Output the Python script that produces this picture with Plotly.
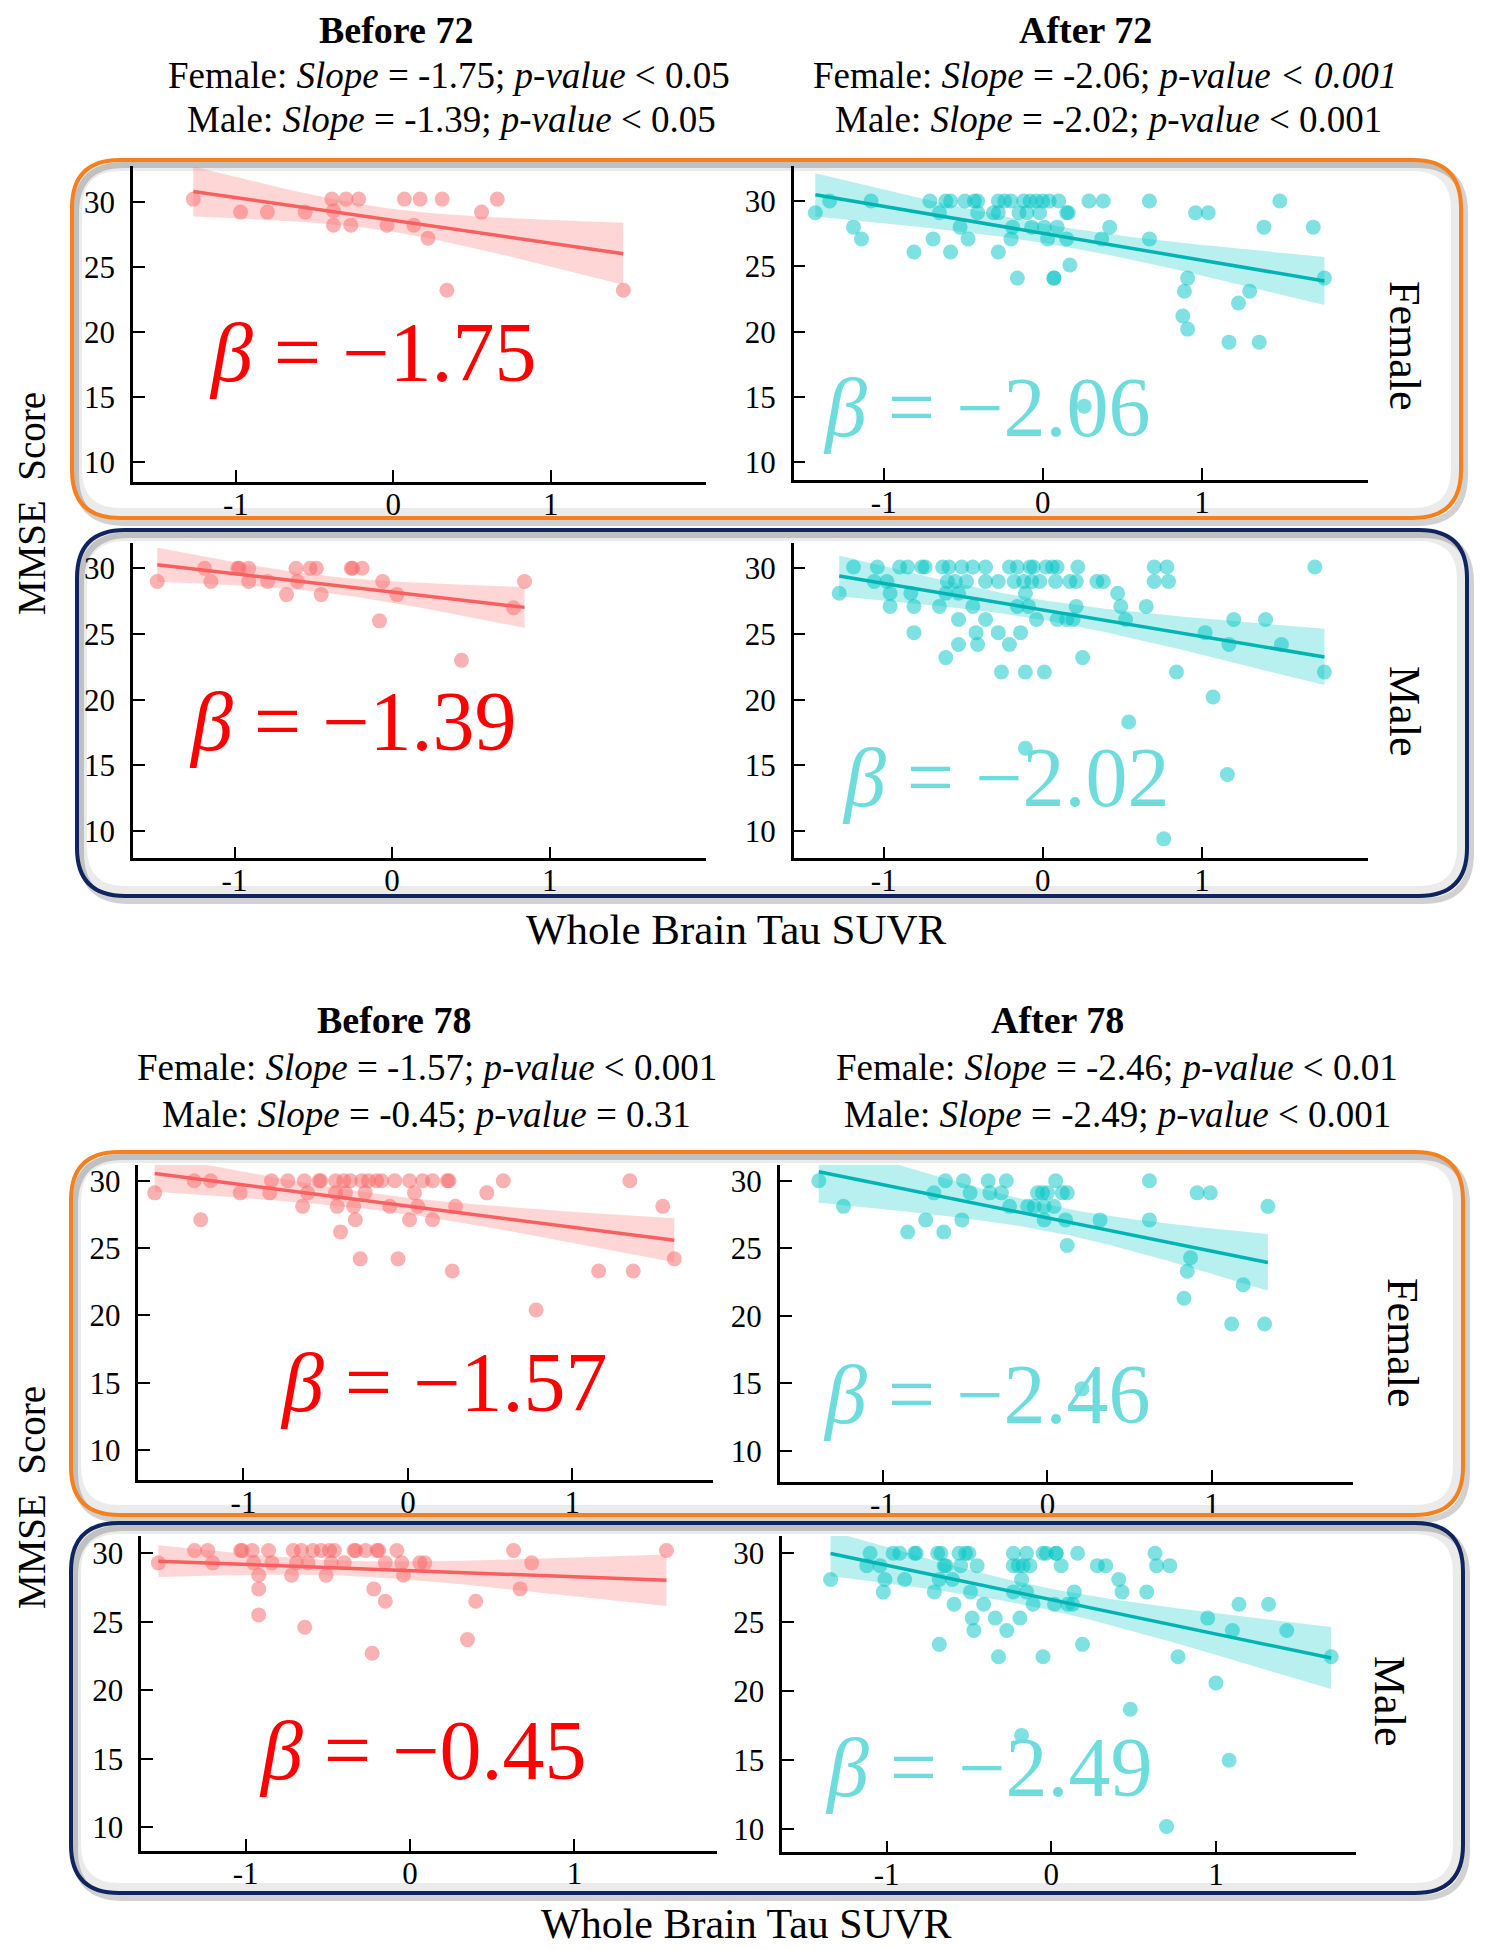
import numpy as np
import plotly.graph_objects as go

W, H = 1497, 1950

# ---------------- data ----------------
x_ticks = [-1, 0, 1]
x_tick_labels = ["-1", "0", "1"]
y_ticks = [10, 15, 20, 25, 30]
y_tick_labels = ["10", "15", "20", "25", "30"]

group_titles = ["Before 72", "After 72", "Before 78", "After 78"]
female_slopes = [-1.75, -2.06, -1.57, -2.46]
male_slopes = [-1.39, -2.02, -0.45, -2.49]
female_p = ["&lt; 0.05", "<i>&lt; 0.001</i>", "&lt; 0.001", "&lt; 0.01"]
male_p = ["&lt; 0.05", "&lt; 0.001", "= 0.31", "&lt; 0.001"]

b72_female_x = [-1.27, -0.97, -0.80, -0.56, -0.39, -0.38, -0.38, -0.30, -0.27, -0.22,
                -0.04, 0.07, 0.13, 0.17, 0.22, 0.31, 0.34, 0.56, 0.66, 1.46]
b72_female_y = [30.2, 29.2, 29.2, 29.2, 30.2, 29.3, 28.2, 30.2, 28.2, 30.2,
                28.2, 30.2, 28.2, 30.2, 27.2, 30.2, 23.2, 29.2, 30.2, 23.2]

a72_female_x = [-1.43, -1.34, -1.19, -1.14, -1.08, -0.81, -0.71, -0.69, -0.65, -0.61,
                -0.58, -0.58, -0.52, -0.49, -0.47, -0.43, -0.41, -0.41, -0.31, -0.28,
                -0.28, -0.28, -0.24, -0.20, -0.20, -0.19, -0.16, -0.15, -0.12, -0.10,
                -0.08, -0.07, -0.04, -0.02, 0.00, 0.01, 0.03, 0.04, 0.07, 0.07,
                0.09, 0.10, 0.15, 0.16, 0.15, 0.17, 0.26, 0.29, 0.37, 0.38,
                0.42, 0.67, 0.67, 0.88, 0.89, 0.91, 0.91, 0.96, 1.04, 1.17,
                1.23, 1.30, 1.36, 1.39, 1.49, 1.70, 1.77]
a72_female_y = [29.1, 30.0, 28.0, 27.1, 30.0, 26.1, 30.0, 27.1, 29.1, 30.0,
                30.0, 26.1, 28.0, 30.0, 27.1, 30.0, 30.0, 29.1, 29.1, 30.0,
                26.1, 29.1, 30.0, 30.0, 27.1, 28.0, 24.1, 29.1, 30.0, 29.1,
                30.0, 28.0, 30.0, 29.1, 30.0, 28.0, 27.1, 30.0, 24.1, 24.1,
                28.0, 30.0, 29.1, 29.1, 27.1, 25.1, 14.3, 30.0, 27.1, 30.0,
                28.0, 30.0, 27.1, 21.2, 23.1, 24.1, 20.2, 29.1, 29.1, 19.2,
                22.2, 23.1, 19.2, 28.0, 30.0, 28.0, 24.1]

b72_male_x = [-1.49, -1.19, -1.15, -0.98, -0.97, -0.91, -0.91, -0.79, -0.67, -0.61,
              -0.60, -0.52, -0.48, -0.45, -0.26, -0.25, -0.19, -0.06, -0.08, 0.03,
              0.44, 0.77, 0.84]
b72_male_y = [29.0, 30.0, 29.0, 30.0, 30.0, 30.0, 29.0, 29.0, 28.0, 30.0,
              29.0, 30.0, 30.0, 28.0, 30.0, 30.0, 30.0, 29.0, 26.0, 28.0,
              23.0, 27.0, 29.0]

a72_male_x = [-1.28, -1.19, -1.04, -1.06, -0.98, -0.96, -0.96, -0.90, -0.85, -0.83,
              -0.81, -0.81, -0.76, -0.74, -0.65, -0.63, -0.61, -0.60, -0.59, -0.61,
              -0.55, -0.53, -0.53, -0.53, -0.51, -0.48, -0.44, -0.44, -0.42, -0.41,
              -0.36, -0.36, -0.36, -0.28, -0.28, -0.26, -0.21, -0.21, -0.18, -0.16,
              -0.16, -0.14, -0.12, -0.11, -0.11, -0.09, -0.08, -0.07, -0.06, -0.04,
              -0.02, 0.01, 0.02, 0.06, 0.09, 0.08, 0.09, 0.15, 0.17, 0.19,
              0.21, 0.21, 0.22, 0.25, -0.11, 0.34, 0.38, 0.47, 0.49, 0.52,
              0.54, 0.65, 0.70, 0.70, 0.78, 0.79, 0.76, 0.84, 1.02, 1.07,
              1.16, 1.17, 1.20, 1.40, 1.50, 1.71, 1.77]
a72_male_y = [28.1, 30.1, 30.1, 29.0, 29.0, 28.1, 27.1, 30.1, 30.1, 28.1,
              27.1, 25.1, 30.1, 30.1, 27.1, 30.1, 28.1, 29.0, 30.1, 23.2,
              29.0, 28.1, 26.1, 24.2, 30.1, 29.0, 30.1, 27.1, 25.1, 24.2,
              30.1, 29.0, 26.1, 29.0, 25.1, 22.1, 30.1, 24.2, 29.0, 30.1,
              27.1, 25.1, 29.0, 28.1, 22.1, 27.1, 30.1, 29.0, 30.1, 26.1,
              29.0, 22.1, 30.1, 30.1, 30.1, 29.0, 26.1, 26.1, 29.0, 26.1,
              27.1, 29.0, 30.1, 23.2, 16.3, 29.0, 29.0, 28.1, 27.1, 26.1,
              18.3, 27.1, 30.1, 29.0, 30.1, 29.0, 9.4, 22.1, 25.1, 20.2,
              14.3, 24.2, 26.1, 26.1, 24.2, 30.1, 22.1]

b78_female_x = [-1.54, -1.30, -1.26, -1.20, -1.02, -0.84, -0.83, -0.73, -0.64, -0.63,
                -0.61, -0.54, -0.53, -0.44, -0.44, -0.43, -0.41, -0.39, -0.38, -0.35,
                -0.33, -0.32, -0.29, -0.28, -0.26, -0.24, -0.19, -0.16, -0.11, -0.08,
                -0.06, 0.01, 0.01, 0.04, 0.06, 0.09, 0.15, 0.15, 0.24, 0.25,
                0.27, 0.29, 0.48, 0.58, 0.78, 1.16, 1.35, 1.37, 1.55, 1.62]
b78_female_y = [29.1, 30.0, 27.1, 30.0, 29.1, 29.1, 30.0, 30.0, 28.1, 30.0,
                29.1, 30.0, 30.0, 30.0, 29.1, 28.1, 26.2, 30.0, 29.1, 30.0,
                28.1, 27.1, 24.2, 30.0, 29.1, 30.0, 30.0, 30.0, 28.1, 30.0,
                24.2, 30.0, 27.1, 29.1, 28.1, 30.0, 30.0, 27.1, 30.0, 30.0,
                23.3, 28.1, 29.1, 30.0, 20.4, 23.3, 30.0, 23.3, 28.1, 24.2]

a78_female_x = [-1.39, -1.24, -0.85, -0.74, -0.69, -0.63, -0.62, -0.52, -0.51, -0.47,
                -0.36, -0.35, -0.28, -0.25, -0.23, -0.12, -0.08, -0.06, -0.03, -0.02,
                -0.02, 0.00, 0.04, 0.05, 0.09, 0.12, 0.11, 0.12, 0.21, 0.32,
                0.62, 0.62, 0.83, 0.85, 0.87, 0.91, 0.99, 1.12, 1.19, 1.32, 1.34]
a78_female_y = [30.0, 28.1, 26.2, 27.1, 29.1, 26.2, 30.0, 27.1, 30.0, 29.1,
                30.0, 29.1, 29.1, 30.0, 28.1, 28.1, 28.1, 29.1, 29.1, 27.1,
                28.1, 29.1, 28.1, 30.0, 29.1, 29.1, 27.1, 25.2, 14.6, 27.1,
                30.0, 27.1, 21.3, 23.3, 24.3, 29.1, 29.1, 19.4, 22.3, 19.4, 28.1]

b78_male_x = [-1.53, -1.31, -1.23, -1.20, -1.03, -1.02, -0.96, -0.95, -0.92, -0.92,
              -0.92, -0.86, -0.84, -0.72, -0.71, -0.69, -0.66, -0.64, -0.62, -0.59,
              -0.54, -0.51, -0.49, -0.48, -0.46, -0.40, -0.34, -0.33, -0.27, -0.22,
              -0.23, -0.20, -0.19, -0.15, -0.15, -0.08, -0.05, -0.04, 0.06, 0.09,
              0.35, 0.40, 0.63, 0.67, 0.74, 1.56]
b78_male_y = [29.3, 30.2, 30.2, 29.3, 30.2, 30.2, 30.2, 29.3, 28.4, 27.4,
              25.5, 30.2, 29.3, 28.4, 30.2, 29.3, 30.2, 24.6, 29.3, 30.2,
              30.2, 28.4, 30.2, 29.3, 30.2, 29.3, 30.2, 30.2, 30.2, 27.4,
              22.7, 30.2, 30.2, 29.3, 26.5, 30.2, 29.3, 28.4, 29.3, 29.3,
              23.7, 26.5, 30.2, 27.4, 29.3, 30.2]

a78_male_x = [-1.34, -1.12, -1.10, -1.04, -1.01, -1.02, -0.96, -0.92, -0.89, -0.83,
              -0.82, -0.71, -0.69, -0.67, -0.68, -0.68, -0.65, -0.64, -0.60, -0.59,
              -0.56, -0.55, -0.52, -0.50, -0.49, -0.48, -0.47, -0.45, -0.41, -0.34,
              -0.32, -0.27, -0.23, -0.23, -0.23, -0.20, -0.19, -0.18, -0.18, -0.17,
              -0.15, -0.13, -0.15, -0.11, -0.05, -0.05, -0.03, 0.03, 0.03, 0.02,
              0.06, 0.10, 0.13, 0.14, 0.16, 0.19, 0.28, 0.33, 0.41, 0.43,
              0.48, 0.58, 0.63, 0.64, 0.72, 0.70, 0.77, 0.95, 1.00, 1.08,
              1.10, 1.14, 1.32, 1.43, 1.70]
a78_male_y = [28.1, 29.1, 30.0, 29.1, 28.1, 27.2, 30.0, 30.0, 28.1, 30.0,
              30.0, 27.2, 30.0, 30.0, 28.1, 23.4, 29.1, 29.1, 28.1, 26.3,
              30.0, 29.1, 30.0, 30.0, 27.2, 25.3, 24.4, 29.1, 26.3, 25.3,
              22.5, 24.4, 30.0, 29.1, 27.2, 29.1, 25.3, 28.1, 16.8, 29.1,
              30.0, 29.1, 27.2, 26.3, 30.0, 22.5, 30.0, 30.0, 30.0, 26.3,
              29.1, 26.3, 26.3, 27.2, 30.0, 23.4, 29.1, 29.1, 28.1, 27.2,
              18.7, 27.2, 30.0, 29.1, 29.1, 10.2, 22.5, 25.3, 20.6, 15.0,
              24.4, 26.3, 26.3, 24.4, 22.5]

# ---------------- styles / layout ----------------
FONT = "Liberation Serif"
STY = {
    "before": dict(pt="rgb(245,100,100)", line="rgb(250,95,95)", band="rgba(255,120,120,0.30)",
                   beta="rgb(255,0,0)"),
    "after": dict(pt="rgb(0,196,196)", line="rgb(0,180,180)", band="rgba(0,200,200,0.28)",
                  beta="rgb(110,220,220)"),
}

panels = [
    dict(xs=b72_female_x, ys=b72_female_y, slope=female_slopes[0], kind="before",
         dom=(133, 706, 166, 481.7), xr=(-1.653, 1.985), yr=(8.51, 32.74), bpos=(-0.13, 18.4)),
    dict(xs=a72_female_x, ys=a72_female_y, slope=female_slopes[1], kind="after",
         dom=(793.7, 1368, 166, 480), xr=(-1.566, 2.044), yr=(8.65, 32.68), bpos=(-0.35, 14.2)),
    dict(xs=b72_male_x, ys=b72_male_y, slope=male_slopes[0], kind="before",
         dom=(133, 706.4, 542.7, 858.3), xr=(-1.644, 1.994), yr=(7.92, 31.95), bpos=(-0.25, 18.3)),
    dict(xs=a72_male_x, ys=a72_male_y, slope=male_slopes[1], kind="after",
         dom=(793.7, 1368, 542.7, 858.3), xr=(-1.566, 2.044), yr=(7.92, 31.95), bpos=(-0.23, 14.1)),
    dict(xs=b78_female_x, ys=b78_female_y, slope=female_slopes[2], kind="before",
         dom=(138.4, 712.6, 1165, 1480), xr=(-1.639, 1.853), yr=(7.77, 31.17), bpos=(0.22, 15.0)),
    dict(xs=a78_female_x, ys=a78_female_y, slope=female_slopes[3], kind="after",
         dom=(779.8, 1353.4, 1165, 1481.7), xr=(-1.627, 1.860), yr=(7.73, 31.16), bpos=(-0.37, 14.2)),
    dict(xs=b78_male_x, ys=b78_male_y, slope=male_slopes[2], kind="before",
         dom=(141.3, 716.8, 1536, 1850.7), xr=(-1.634, 1.866), yr=(8.29, 31.26), bpos=(0.08, 15.6)),
    dict(xs=a78_male_x, ys=a78_male_y, slope=male_slopes[3], kind="after",
         dom=(782.3, 1356.4, 1536, 1852.3), xr=(-1.633, 1.853), yr=(8.33, 31.25), bpos=(-0.38, 14.5)),
]

# page body adds an 8px offset; compensate so screen positions match
OFF = 8


def px(x):
    return (x - OFF) / W


def py(y):
    return 1 - (y - OFF) / H


fig = go.Figure()
layout_axes = {}
annotations = []

for i, p in enumerate(panels, start=1):
    sty = STY[p["kind"]]
    xs = np.array(p["xs"], dtype=float)
    ys = np.array(p["ys"], dtype=float)
    b = p["slope"]
    n = len(xs)
    xbar, ybar = xs.mean(), ys.mean()
    a = ybar - b * xbar
    resid = ys - (a + b * xs)
    s = np.sqrt((resid ** 2).sum() / (n - 2))
    sxx = ((xs - xbar) ** 2).sum()
    tval = 1.96 + 2.4 / (n - 2)
    xg = np.linspace(xs.min(), xs.max(), 80)
    yg = a + b * xg
    se = s * np.sqrt(1.0 / n + (xg - xbar) ** 2 / sxx)
    upper, lower = yg + tval * se, yg - tval * se

    xa = "x" if i == 1 else f"x{i}"
    ya = "y" if i == 1 else f"y{i}"

    fig.add_trace(go.Scatter(x=xs, y=ys, mode="markers", xaxis=xa, yaxis=ya,
                             marker=dict(size=15, color=sty["pt"], opacity=0.5, line=dict(width=0)),
                             hoverinfo="skip", showlegend=False))
    fig.add_trace(go.Scatter(x=np.concatenate([xg, xg[::-1]]), y=np.concatenate([upper, lower[::-1]]),
                             mode="lines", fill="toself", fillcolor=sty["band"], line=dict(width=0),
                             xaxis=xa, yaxis=ya, hoverinfo="skip", showlegend=False))
    fig.add_trace(go.Scatter(x=xg, y=yg, mode="lines", line=dict(color=sty["line"], width=3.5),
                             xaxis=xa, yaxis=ya, hoverinfo="skip", showlegend=False))

    x0, x1, yt, yb = p["dom"]
    axcommon = dict(showline=True, linecolor="black", linewidth=2.5, ticks="inside", ticklen=12,
                    tickwidth=2, tickcolor="black", showgrid=False, zeroline=False,
                    tickfont=dict(family=FONT, size=31, color="black"), fixedrange=True)
    layout_axes["xaxis" if i == 1 else f"xaxis{i}"] = dict(
        domain=[px(x0), px(x1)], range=list(p["xr"]), anchor=ya,
        tickvals=x_ticks, ticktext=x_tick_labels, ticklabelstandoff=-7, **axcommon)
    layout_axes["yaxis" if i == 1 else f"yaxis{i}"] = dict(
        domain=[py(yb), py(yt)], range=list(p["yr"]), anchor=xa,
        tickvals=y_ticks, ticktext=y_tick_labels, ticklabelstandoff=9, **axcommon)

    annotations.append(dict(x=p["bpos"][0], y=p["bpos"][1], xref=xa, yref=ya,
                            text=f"<i>β</i> = −{abs(b):.2f}", showarrow=False,
                            font=dict(family=FONT, size=84, color=sty["beta"]),
                            xanchor="center", yanchor="middle"))


def ann(text, x, y, size, angle=0, bold=False):
    t = f"<b>{text}</b>" if bold else text
    annotations.append(dict(x=px(x), y=py(y), xref="paper", yref="paper", text=t, showarrow=False,
                            textangle=angle, font=dict(family=FONT, size=size, color="black"),
                            xanchor="center", yanchor="middle"))


def subline(sex, slope, ptxt):
    return f"{sex}: <i>Slope</i> = {slope:.2f}; <i>p-value</i> {ptxt}"


# group headings
head_pos = [(396, 30, 449, 75, 451, 120), (1085, 30, 1105, 75, 1108, 120),
            (394, 1020, 427, 1067, 426, 1114), (1057, 1020, 1117, 1067, 1117, 1114)]
for g in range(4):
    tx, ty, fx, fy, mx, my = head_pos[g]
    ann(group_titles[g], tx, ty, 38, bold=True)
    ann(subline("Female", female_slopes[g], female_p[g]), fx, fy, 37)
    ann(subline("Male", male_slopes[g], male_p[g]), mx, my, 37)

ann("Whole Brain Tau SUVR", 736, 929, 43)
ann("Whole Brain Tau SUVR", 746, 1924, 42)
ann("MMSE\u00a0\u00a0Score", 31, 504, 39, angle=-90)
ann("MMSE\u00a0\u00a0Score", 31, 1498, 39, angle=-90)
ann("Female", 1405, 346, 44, angle=90)
ann("Male", 1405, 711, 44, angle=90)
ann("Female", 1403, 1343, 44, angle=90)
ann("Male", 1390, 1701, 44, angle=90)


def rounded(x0, y0, x1, y1, r):
    def P(x, y):
        return f"{px(x):.5f},{py(y):.5f}"
    return (f"M {P(x0 + r, y0)} L {P(x1 - r, y0)} Q {P(x1, y0)} {P(x1, y0 + r)} "
            f"L {P(x1, y1 - r)} Q {P(x1, y1)} {P(x1 - r, y1)} "
            f"L {P(x0 + r, y1)} Q {P(x0, y1)} {P(x0, y1 - r)} "
            f"L {P(x0, y0 + r)} Q {P(x0, y0)} {P(x0 + r, y0)} Z")


ORANGE = "rgb(247,128,30)"
NAVY = "rgb(16,36,96)"
boxes = [(72, 160, 1461, 518, ORANGE), (77, 530, 1467, 896, NAVY),
         (71, 1152, 1463, 1515, ORANGE), (71, 1523, 1463, 1893, NAVY)]
shapes = []
for (x0, y0, x1, y1, col) in boxes:
    shapes.append(dict(type="path", path=rounded(x0 + 4, y0 + 5, x1 + 4, y1 + 5, 48), xref="paper",
                       yref="paper", line=dict(color="rgba(0,0,0,0.18)", width=6), layer="below"))
    shapes.append(dict(type="path", path=rounded(x0 + 5, y0 + 6, x1 - 5, y1 - 5, 44), xref="paper",
                       yref="paper", line=dict(color="rgba(0,0,0,0.08)", width=10), layer="below"))
    shapes.append(dict(type="path", path=rounded(x0, y0, x1, y1, 48), xref="paper", yref="paper",
                       line=dict(color=col, width=4), layer="above"))

fig.update_layout(width=W, height=H, margin=dict(l=0, r=0, t=0, b=0),
                  paper_bgcolor="white", plot_bgcolor="rgba(0,0,0,0)",
                  showlegend=False, annotations=annotations, shapes=shapes, **layout_axes)

fig.write_html("out.html")
